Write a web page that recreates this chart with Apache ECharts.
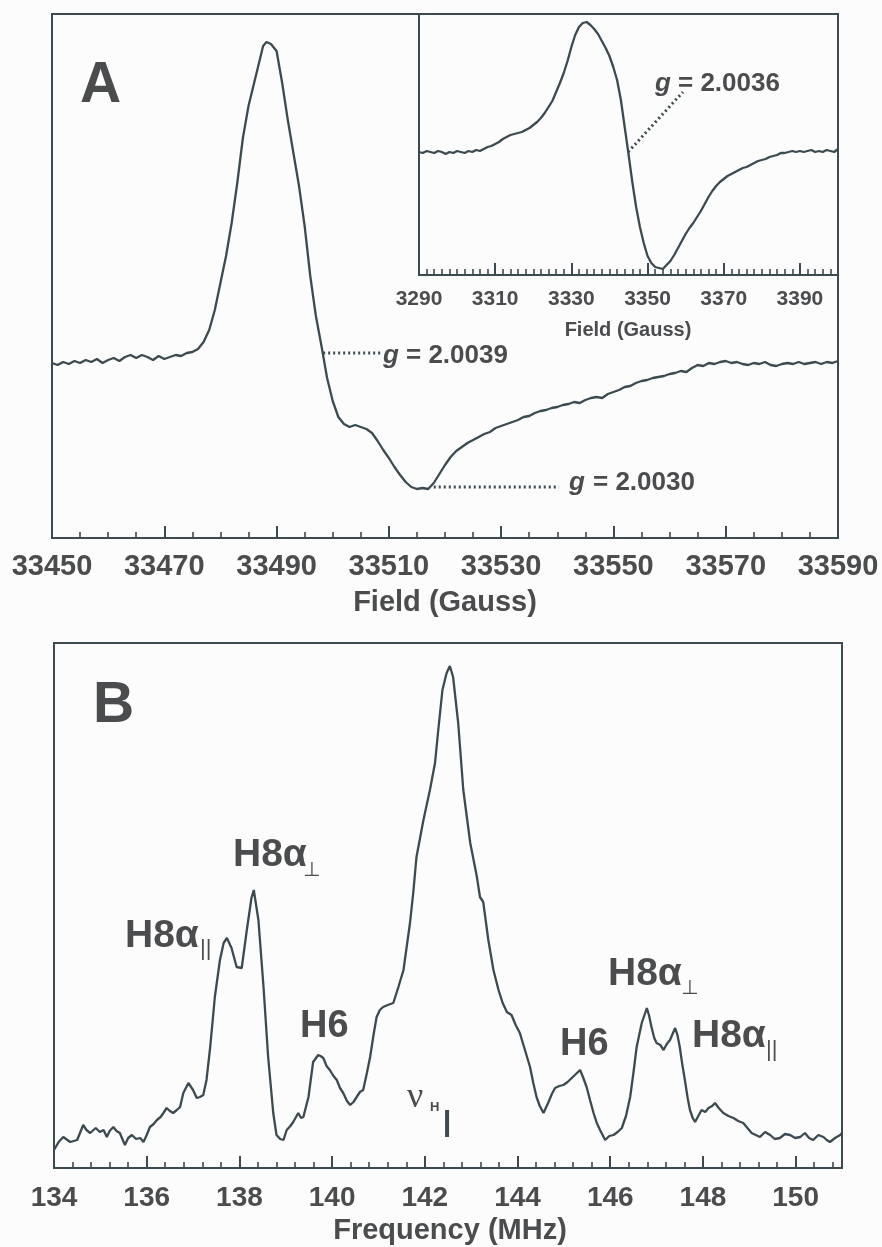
<!DOCTYPE html>
<html>
<head>
<meta charset="utf-8">
<script src="https://cdn.jsdelivr.net/npm/echarts@6/dist/echarts.min.js"></script>
<style>
  html, body { margin: 0; padding: 0; background: #fcfcfd; }
  #main { width: 882px; height: 1247px; }
</style>
</head>
<body>
<div id="main"></div>
<script>
// Panel A: W-band EPR spectrum (field in Gauss, intensity in arbitrary units)
const aField = [33450,33451,33452,33453,33454,33455,33456,33457,33458,33459,
  33460,33461,33462,33463,33464,33465,33466,33467,33468,33469,
  33470,33471,33472,33473,33474,33475,33476,33477,33478,33479,
  33480,33481,33482,33483,33484,33485,33486,33487,33487.6,33488.2,
  33489,33490,33491,33492,33493,33494,33495,33496,33497,33498,33499,
  33500,33501,33502,33503,33504,33505,33506,33507,33508,33509,
  33510,33511,33512,33513,33514,33515,33516,33517,33518,33519,
  33520,33521,33522,33523,33524,33525,33526,33527,33528,33529,
  33530,33531,33532,33533,33534,33535,33536,33537,33538,33539,
  33540,33541,33542,33543,33544,33545,33546,33547,33548,33549,
  33550,33551,33552,33553,33554,33555,33556,33557,33558,33559,
  33560,33561,33562,33563,33564,33565,33566,33567,33568,33569,
  33570,33571,33572,33573,33574,33575,33576,33577,33578,33579,
  33580,33581,33582,33583,33584,33585,33586,33587,33588,33589,33590];
const aSignal = [175,173,176,174,177,175,178,176,179,175,
  178,180,177,181,183,180,183,181,178,182,
  179,181,183,182,185,186,189,196,208,228,
  255,282,315,355,400,432,455,478,492,496,
  494,487,455,418,385,352,312,262,222,192,160,
  137,121,114,111,113,111,109,105,97,88,
  80,71,63,56,51,49,50,49,55,64,
  73,81,87,91,95,98,101,104,106,110,
  112,114,116,118,121,122,125,127,128,130,
  131,133,134,136,135,138,140,141,140,144,
  146,148,151,152,155,157,158,160,161,162,
  164,165,167,166,170,173,172,175,174,176,
  177,175,176,174,173,175,174,176,173,172,
  174,175,174,176,174,175,176,174,176,175,177];

// Panel A inset: X-band spectrum
const insetField = [3290,3291,3292,3293,3294,3295,3296,3297,3298,3299,
  3300,3301,3302,3303,3304,3305,3306,3307,3308,3309,
  3310,3311,3312,3313,3314,3315,3316,3317,3318,3319,
  3320,3321,3322,3323,3324,3325,3326,3327,3328,3329,
  3330,3331,3332,3333,3334,3335,3336,3337,3338,3339,
  3340,3341,3342,3343,3344,3345,3346,3347,3348,3349,
  3350,3351,3352,3353,3354,3355,3356,3357,3358,3359,
  3360,3361,3362,3363,3364,3365,3366,3367,3368,3369,
  3370,3371,3372,3373,3374,3375,3376,3377,3378,3379,
  3380,3381,3382,3383,3384,3385,3386,3387,3388,3389,
  3390,3391,3392,3393,3394,3395,3396,3397,3398,3399,3400];
const insetSignal = [123,122,124,123,122,124,123,121,123,122,
  124,123,122,124,123,125,124,126,128,129,
  131,133,136,138,140,141,142,143,145,147,
  150,153,157,162,168,174,183,192,202,214,
  228,240,248,252,253,250,246,241,234,227,
  219,208,195,175,148,121,93,68,48,32,
  19,12,8,7,6,10,14,20,27,34,
  41,47,52,58,64,71,78,84,89,93,
  96,99,101,103,105,107,108,110,112,114,
  115,116,118,119,120,122,122,123,124,123,
  124,123,124,125,123,124,123,125,124,123,126];

// Panel B: ENDOR spectrum (frequency in MHz)
const bFreq = [134.0,134.1,134.2,134.35,134.5,134.63,134.7,134.78,134.9,134.99,
  135.07,135.14,135.2,135.28,135.35,135.42,135.53,135.6,135.68,135.77,
  135.86,135.93,136.0,136.07,136.15,136.22,136.3,136.36,136.43,136.5,
  136.57,136.65,136.72,136.79,136.9,137.0,137.08,137.15,137.22,137.29,
  137.37,137.47,137.58,137.66,137.73,137.83,137.94,138.05,138.16,138.26,
  138.31,138.41,138.52,138.62,138.73,138.8,138.88,138.95,139.02,139.1,
  139.16,139.27,139.33,139.38,139.49,139.59,139.7,139.75,139.81,139.88,
  139.95,140.03,140.1,140.17,140.24,140.32,140.39,140.46,140.53,140.6,
  140.67,140.75,140.82,140.9,140.96,141.03,141.1,141.2,141.32,141.43,
  141.54,141.62,141.68,141.75,141.82,141.97,142.11,142.22,142.29,142.38,
  142.47,142.54,142.61,142.72,142.83,142.98,143.12,143.19,143.26,143.37,
  143.48,143.59,143.68,143.77,143.87,143.96,144.05,144.16,144.27,144.34,
  144.41,144.48,144.56,144.66,144.74,144.81,144.9,144.99,145.08,145.17,
  145.26,145.35,145.42,145.49,145.57,145.64,145.71,145.78,145.89,145.98,
  146.07,146.16,146.25,146.34,146.43,146.5,146.57,146.68,146.79,146.84,
  146.89,146.95,147.0,147.08,147.15,147.22,147.29,147.4,147.45,147.5,
  147.55,147.61,147.67,147.72,147.78,147.83,147.9,147.97,148.05,148.12,
  148.2,148.26,148.34,148.44,148.55,148.66,148.76,148.87,148.96,149.05,
  149.14,149.23,149.34,149.45,149.55,149.66,149.77,149.88,149.99,150.1,
  150.2,150.29,150.38,150.49,150.6,150.67,150.74,150.85,150.96,151.0];
const bSignal = [18,26,31,26,28,43,38,35,40,36,
  38,31,37,41,37,35,23,30,33,29,
  30,26,33,41,44,48,51,55,60,57,
  55,58,61,75,85,78,70,71,73,88,
  121,171,208,225,230,220,201,200,238,270,
  278,248,181,111,55,33,29,28,38,42,
  46,55,50,51,71,106,113,112,110,102,
  98,92,88,80,75,67,63,66,71,76,
  78,95,111,135,151,158,161,163,165,181,
  198,225,245,275,311,348,378,405,438,478,
  495,502,491,445,378,325,292,271,266,228,
  198,178,165,156,153,143,135,118,101,85,
  71,62,55,65,74,80,82,83,86,90,
  94,98,90,81,67,55,45,38,28,32,
  33,36,40,52,71,95,121,145,160,152,
  141,130,125,123,118,124,128,140,133,121,
  105,88,70,58,50,46,52,58,56,60,
  62,65,60,55,52,50,47,45,40,35,
  33,31,36,33,29,30,34,33,30,31,
  35,30,28,33,31,28,26,30,33,35];

// dotted leader lines for the g-value labels, and the nu_H marker
const leadG0039 = [[33498.3, 185], [33508.8, 185]];
const leadG0030 = [[33518, 51], [33540.3, 51]];
const leadG0036 = [[3344.9, 123], [3359.3, 183]];
const nuHMarker = [[142.48, 31], [142.48, 58]];

const INK = '#3d4a4f';
const TEXT = '#4a4c4e';
const FONT = '"Liberation Sans", Arial, Helvetica, sans-serif';

function zip(xs, ys) {
  return xs.map((x, i) => [x, ys[i]]);
}

function majorAxis(grid, min, max, interval, fontSize, margin) {
  return {
    gridIndex: grid, type: 'value', position: 'bottom', min: min, max: max, interval: interval,
    axisLine: { show: true, onZero: false, lineStyle: { color: INK, width: 2 } },
    axisTick: { show: true, inside: true, length: 12, lineStyle: { color: INK, width: 2 } },
    axisLabel: {
      fontFamily: FONT, fontWeight: 'bold', fontSize: fontSize, color: TEXT, margin: margin,
      formatter: v => ((v - min) % interval === 0 ? String(v) : '')
    },
    splitLine: { show: false }
  };
}

function minorAxis(grid, min, max, interval) {
  return {
    gridIndex: grid, type: 'value', position: 'bottom', min: min, max: max, interval: interval,
    axisLine: { show: false, onZero: false },
    axisTick: { show: true, inside: true, length: 6, lineStyle: { color: INK, width: 1.6 } },
    axisLabel: { show: false },
    splitLine: { show: false }
  };
}

function trace(xi, yi, data, width) {
  return {
    type: 'line', xAxisIndex: xi, yAxisIndex: yi, data: data,
    symbol: 'none', silent: true, z: 3,
    lineStyle: { color: INK, width: width || 2.3 }
  };
}

function dotted(xi, yi, data) {
  return {
    type: 'line', xAxisIndex: xi, yAxisIndex: yi, data: data,
    symbol: 'none', silent: true, z: 2,
    lineStyle: { color: INK, width: 3, type: [2, 3] }
  };
}

function txt(x, y, text, font, align) {
  return {
    type: 'text', x: x, y: y, z: 10, silent: true,
    style: { text: text, font: font, fill: TEXT, align: align || 'left', verticalAlign: 'middle' }
  };
}

const B = size => 'bold ' + size + 'px ' + FONT;
const BI = size => 'italic bold ' + size + 'px ' + FONT;
const SYM = size => size + 'px "DejaVu Sans", sans-serif';

const chart = echarts.init(document.getElementById('main'));

chart.setOption({
  animation: false,
  backgroundColor: '#fcfcfd',
  grid: [
    { left: 52, top: 14, width: 786, height: 524, show: true, borderColor: INK, borderWidth: 2, containLabel: false },
    { left: 419, top: 14, width: 419, height: 261, show: true, borderColor: INK, borderWidth: 2, containLabel: false },
    { left: 54, top: 643, width: 788, height: 525, show: true, borderColor: INK, borderWidth: 2, containLabel: false }
  ],
  xAxis: [
    majorAxis(0, 33450, 33590, 20, 29, 14),
    minorAxis(0, 33450, 33590, 5),
    majorAxis(1, 3290, 3400, 20, 21, 14),
    minorAxis(1, 3290, 3400, 2),
    majorAxis(2, 134, 151, 2, 28, 16),
    minorAxis(2, 134, 151, 0.4)
  ],
  yAxis: [
    { gridIndex: 0, type: 'value', min: 0, max: 524, show: false },
    { gridIndex: 1, type: 'value', min: 0, max: 261, show: false },
    { gridIndex: 2, type: 'value', min: 0, max: 525, show: false }
  ],
  series: [
    trace(0, 0, zip(aField, aSignal)),
    trace(2, 1, zip(insetField, insetSignal)),
    trace(4, 2, zip(bFreq, bSignal)),
    dotted(0, 0, leadG0039),
    dotted(0, 0, leadG0030),
    dotted(2, 1, leadG0036),
    trace(4, 2, nuHMarker, 4)
  ],
  graphic: [
    txt(80, 86, 'A', B(57)),
    txt(93, 706, 'B', B(57)),
    // axis titles
    txt(445, 603, 'Field (Gauss)', B(29), 'center'),
    txt(628, 330, 'Field (Gauss)', B(20), 'center'),
    txt(450, 1231, 'Frequency (MHz)', B(29), 'center'),
    // g values
    txt(383, 356, 'g', BI(26)),
    txt(406, 356, '= 2.0039', B(26)),
    txt(569, 483, 'g', BI(26)),
    txt(593, 483, '= 2.0030', B(26)),
    txt(655, 84, 'g', BI(26)),
    txt(678, 84, '= 2.0036', B(26)),
    // ENDOR assignments
    txt(125, 936, 'H8α', B(39)),
    txt(200, 949, '||', '22px ' + FONT),
    txt(233, 855, 'H8α', B(39)),
    txt(303, 871, '⊥', SYM(20)),
    txt(300, 1027, 'H6', B(38)),
    txt(407, 1098, 'ν', '36px "Liberation Serif", serif'),
    txt(430, 1107, 'H', B(13)),
    txt(560, 1045, 'H6', B(38)),
    txt(608, 974, 'H8α', B(39)),
    txt(681, 989, '⊥', SYM(20)),
    txt(692, 1036, 'H8α', B(39)),
    txt(766, 1050, '||', '22px ' + FONT)
  ]
});
</script>
</body>
</html>
